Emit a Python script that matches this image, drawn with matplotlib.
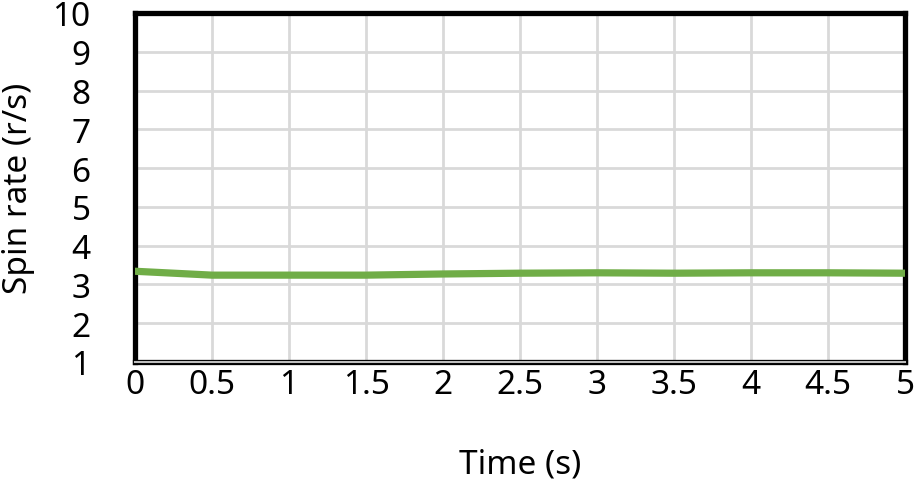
import numpy as np
import matplotlib.pyplot as plt

plt.rcParams['font.family'] = ['Noto Sans', 'DejaVu Sans']
plt.rcParams['xtick.major.pad'] = 4
plt.rcParams['ytick.major.pad'] = 32

time_s = [0, 0.5, 1, 1.5, 2, 2.5, 3, 3.5, 4, 4.5, 5]
spin_rate = [3.34, 3.24, 3.24, 3.24, 3.27, 3.29, 3.30, 3.29, 3.30, 3.30, 3.29]

x_ticks = [0, 0.5, 1, 1.5, 2, 2.5, 3, 3.5, 4, 4.5, 5]
x_tick_labels = ['0', '0.5', '1', '1.5', '2', '2.5', '3', '3.5', '4', '4.5', '5']
y_ticks = list(range(1, 11))

fig = plt.figure(figsize=(9.15, 4.85), dpi=100)
ax = fig.add_axes([135 / 915, 1 - 363 / 485, 770 / 915, 349 / 485])

ax.plot(time_s, spin_rate, color='#70AD47', lw=5.2, solid_capstyle='round', zorder=3)

ax.set_xlim(0, 5)
ax.set_ylim(1, 10)
ax.set_xticks(x_ticks)
ax.set_xticklabels(x_tick_labels)
ax.set_yticks(y_ticks)
ax.grid(True, color='#D9D9D9', lw=2)
ax.set_axisbelow(True)
ax.tick_params(length=0, labelsize=24, colors='black')

for side in ['left', 'top', 'right', 'bottom']:
    ax.spines[side].set_linewidth(3.8)
    ax.spines[side].set_color('black')
# light inner stripe on the bottom edge
ax.axhline(1, color='#BFBFBF', lw=1.5, zorder=5, clip_on=False)

ax.set_xlabel('Time (s)', fontsize=24)
ax.set_ylabel('Spin rate (r/s)', fontsize=24)
ax.xaxis.set_label_coords(0.5, -0.245)
ax.yaxis.set_label_coords(-0.13, 0.5)

fig.savefig('out.png', dpi=100)
